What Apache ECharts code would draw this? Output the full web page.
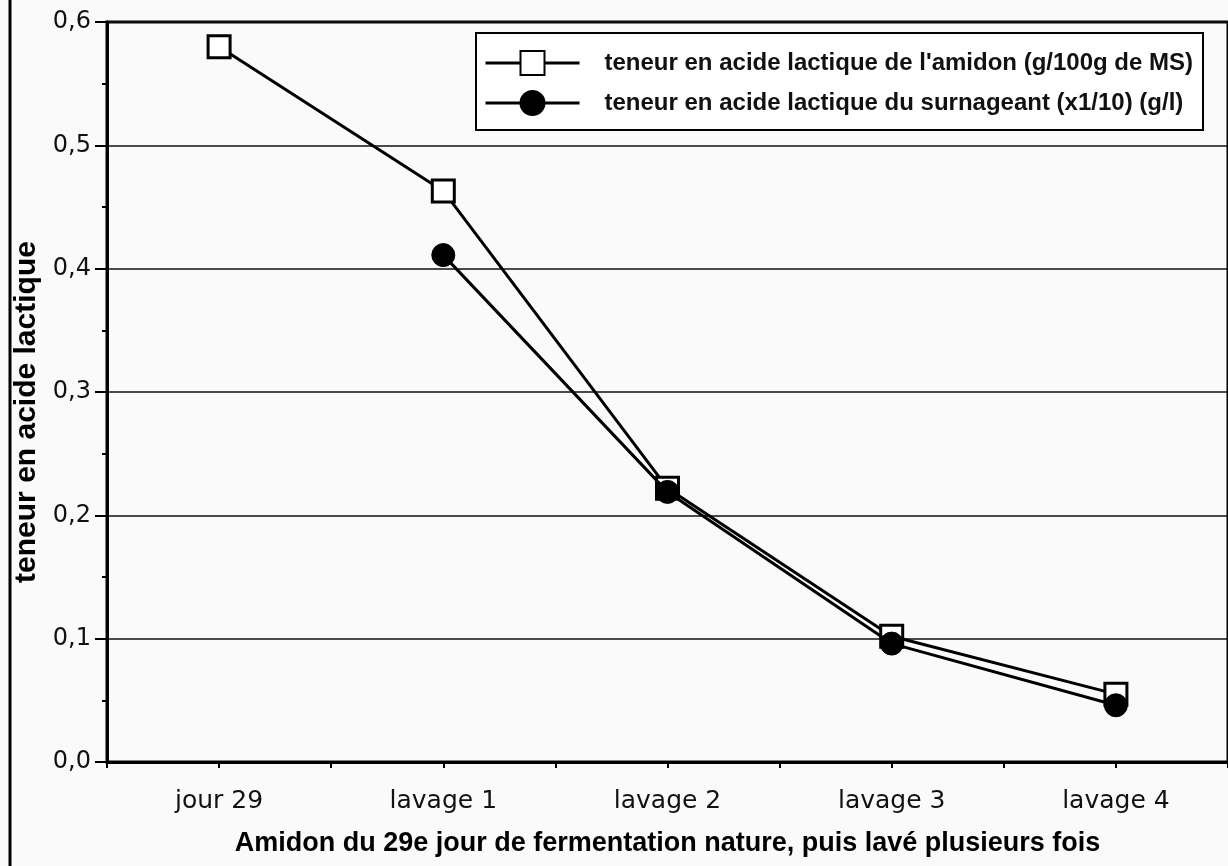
<!DOCTYPE html>
<html>
<head>
<meta charset="utf-8">
<script src="https://cdn.jsdelivr.net/npm/echarts@6/dist/echarts.min.js"></script>
<style>
html,body{margin:0;padding:0;background:#fafafa;}
#chart{width:1228px;height:866px;}
</style>
</head>
<body>
<div id="chart"></div>
<script>
const categories = ['jour 29', 'lavage 1', 'lavage 2', 'lavage 3', 'lavage 4'];
const amidonValues = [0.58, 0.463, 0.222, 0.102, 0.055];
const surnageantValues = [null, 0.411, 0.219, 0.096, 0.046];
const seriesNames = [
  "teneur en acide lactique de l'amidon (g/100g de MS)",
  "teneur en acide lactique du surnageant (x1/10) (g/l)"
];
const yAxisTitle = 'teneur en acide lactique';
const xAxisTitle = 'Amidon du 29e jour de fermentation nature, puis lavé plusieurs fois';

const chart = echarts.init(document.getElementById('chart'), null, {renderer: 'canvas'});
const option = {
  backgroundColor: '#fafafa',
  animation: false,
  grid: {
    show: true, left: 107, right: -6, top: 22, bottom: 104,
    borderColor: '#000', borderWidth: 3, backgroundColor: 'transparent'
  },
  legend: {
    orient: 'vertical',
    left: 476, top: 33,
    padding: [17, 10, 14, 8],
    backgroundColor: '#fff',
    borderColor: '#000', borderWidth: 2,
    borderRadius: 0,
    itemWidth: 94, itemHeight: 30, itemGap: 14,
    lineStyle: {width: 3, color: '#000'},
    textStyle: {fontFamily: 'Liberation Sans', fontSize: 24, fontWeight: 'bold', color: '#111', padding: [0, 0, 0, 20]},
    data: seriesNames
  },
  xAxis: [{
    type: 'category',
    data: categories,
    boundaryGap: true,
    name: xAxisTitle,
    nameLocation: 'middle',
    nameGap: 68,
    nameTextStyle: {fontFamily: 'Liberation Sans', fontSize: 27, fontWeight: 'bold', color: '#000'},
    axisLine: {lineStyle: {color: '#000', width: 3}},
    axisTick: {show: true, length: 6, lineStyle: {color: '#000', width: 2}},
    axisLabel: {fontFamily: 'DejaVu Sans', fontSize: 25, color: '#111', margin: 27},
    splitLine: {show: false}
  }, {
    type: 'category',
    data: categories,
    position: 'bottom',
    boundaryGap: true,
    axisLine: {show: false},
    axisTick: {show: true, alignWithLabel: true, length: 6, lineStyle: {color: '#000', width: 2}},
    axisLabel: {show: false},
    splitLine: {show: false}
  }],
  yAxis: {
    type: 'value',
    min: 0, max: 0.6, interval: 0.1,
    name: yAxisTitle,
    nameLocation: 'middle',
    nameGap: 60,
    nameTextStyle: {fontFamily: 'Liberation Sans', fontSize: 30, fontWeight: 'bold', color: '#000', padding: [0, 40, 0, 0]},
    axisLine: {show: true, lineStyle: {color: '#000', width: 3}},
    axisTick: {show: true, length: 12, lineStyle: {color: '#000', width: 2}},
    minorTick: {show: true, splitNumber: 2, length: 5, lineStyle: {color: '#000', width: 2}},
    axisLabel: {
      fontFamily: 'DejaVu Sans', fontSize: 24, color: '#111', margin: 16,
      formatter: v => v.toFixed(1).replace('.', ',')
    },
    splitLine: {show: true, lineStyle: {color: '#111', width: 1.5}}
  },
  series: [{
    name: seriesNames[0],
    type: 'line',
    data: amidonValues,
    symbol: 'rect',
    symbolSize: 22,
    lineStyle: {color: '#000', width: 3},
    itemStyle: {color: '#fff', borderColor: '#000', borderWidth: 3},
    z: 2
  }, {
    name: seriesNames[1],
    type: 'line',
    data: surnageantValues,
    symbol: 'circle',
    symbolSize: 23,
    connectNulls: false,
    lineStyle: {color: '#000', width: 3},
    itemStyle: {color: '#000', borderColor: '#000', borderWidth: 1},
    z: 3
  }],
  graphic: [{
    type: 'line',
    shape: {x1: 10, y1: 0, x2: 10, y2: 866},
    style: {stroke: '#000', lineWidth: 3}
  }]
};
chart.setOption(option);
</script>
</body>
</html>
